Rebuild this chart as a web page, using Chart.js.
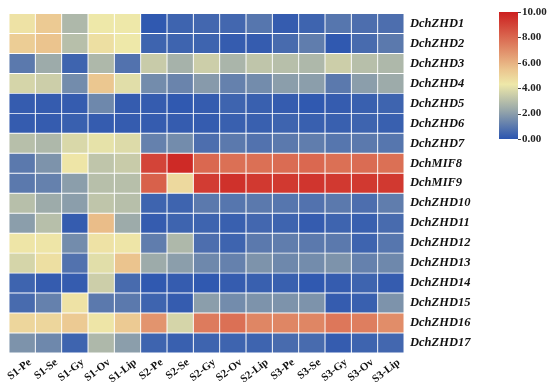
<!DOCTYPE html>
<html>
<head>
<meta charset="utf-8">
<script src="https://cdn.jsdelivr.net/npm/chart.js@4/dist/chart.umd.min.js"></script>
<style>
  html, body { margin: 0; padding: 0; background: #fff; }
  #wrap { width: 550px; height: 382px; }
</style>
</head>
<body>
<div id="wrap"><canvas id="heat"></canvas></div>
<script>
var genes = ['DchZHD1', 'DchZHD2', 'DchZHD3', 'DchZHD4', 'DchZHD5', 'DchZHD6', 'DchZHD7',
  'DchMIF8', 'DchMIF9', 'DchZHD10', 'DchZHD11', 'DchZHD12', 'DchZHD13', 'DchZHD14',
  'DchZHD15', 'DchZHD16', 'DchZHD17'];

var samples = ['S1-Pe', 'S1-Se', 'S1-Gy', 'S1-Ov', 'S1-Lip', 'S2-Pe', 'S2-Se', 'S2-Gy',
  'S2-Ov', 'S2-Lip', 'S3-Pe', 'S3-Se', 'S3-Gy', 'S3-Ov', 'S3-Lip'];

// expression values, one row per gene, one column per sample
var values = [
  [4.5, 5.3, 2.8, 4.3, 4.3, 0.1, 0.4, 0.5, 0.5, 0.9, 0.2, 0.4, 0.9, 0.7, 0.7],
  [5.2, 5.5, 3.0, 4.6, 4.3, 0.4, 0.4, 0.4, 0.2, 0.2, 0.6, 1.1, 0.1, 0.6, 1.0],
  [1.0, 2.4, 0.4, 2.8, 0.8, 3.4, 2.6, 3.5, 2.7, 3.2, 3.0, 2.8, 3.5, 3.0, 2.8],
  [3.7, 3.5, 1.5, 5.4, 4.0, 1.5, 1.3, 1.9, 1.2, 1.5, 2.0, 2.0, 1.0, 2.0, 2.4],
  [0.2, 0.2, 0.2, 1.4, 0.2, 0.2, 0.1, 0.2, 0.4, 0.3, 0.2, 0.1, 0.2, 0.3, 0.4],
  [0.2, 0.2, 0.3, 0.2, 0.2, 0.2, 0.2, 0.2, 0.3, 0.3, 0.4, 0.3, 0.3, 0.4, 0.3],
  [3.0, 2.8, 3.8, 4.1, 3.9, 1.2, 1.5, 0.7, 1.0, 0.8, 1.0, 1.1, 0.9, 1.0, 0.9],
  [1.0, 1.7, 4.4, 3.2, 3.4, 9.0, 9.7, 8.0, 7.8, 7.8, 7.9, 8.0, 7.8, 7.9, 7.8],
  [1.0, 1.2, 2.0, 3.0, 3.0, 8.2, 4.8, 9.2, 9.5, 9.3, 9.3, 9.4, 9.3, 9.3, 9.3],
  [3.0, 2.4, 2.0, 3.2, 3.0, 0.4, 0.4, 1.0, 0.9, 1.0, 0.9, 0.8, 1.0, 0.7, 1.1],
  [2.0, 3.0, 0.2, 5.7, 2.4, 0.2, 0.4, 0.4, 0.3, 0.5, 0.4, 0.2, 0.4, 0.3, 0.6],
  [4.4, 4.4, 1.5, 4.5, 4.4, 1.1, 2.8, 0.7, 0.4, 1.0, 1.1, 1.0, 1.0, 0.4, 0.9],
  [3.7, 4.6, 0.8, 4.0, 5.5, 2.4, 2.0, 1.4, 1.2, 1.7, 1.4, 1.5, 1.7, 1.2, 1.4],
  [0.4, 0.2, 0.2, 3.5, 0.6, 0.1, 0.2, 0.1, 0.2, 0.3, 0.3, 0.1, 0.2, 0.4, 0.2],
  [0.6, 1.2, 4.5, 1.0, 1.0, 0.4, 0.2, 2.0, 1.5, 1.7, 1.7, 1.7, 0.2, 0.3, 1.7],
  [4.9, 4.9, 5.3, 4.4, 5.3, 6.8, 3.7, 7.5, 7.8, 7.2, 7.2, 7.2, 7.6, 7.4, 7.0],
  [1.7, 1.4, 0.4, 2.8, 2.0, 0.4, 0.3, 0.4, 0.4, 0.4, 0.6, 0.6, 0.2, 0.4, 0.5]
];

var colorbarTicks = [0, 2, 4, 6, 8, 10];

// colour scale
var stopValues = [0, 2.2, 4.3, 5.5, 10];
var stopColors = [[43, 85, 176], [149, 165, 170], [238, 232, 169], [235, 196, 142], [204, 31, 31]];

function colorFor(v) {
  var i = 0;
  while (i < stopValues.length - 2 && v > stopValues[i + 1]) i++;
  var t = (v - stopValues[i]) / (stopValues[i + 1] - stopValues[i]);
  t = Math.max(0, Math.min(1, t));
  var a = stopColors[i], b = stopColors[i + 1];
  var c = [0, 1, 2].map(function (k) { return Math.round(a[k] + (b[k] - a[k]) * t); });
  return 'rgb(' + c.join(',') + ')';
}

var datasets = [];
for (var j = 0; j < samples.length; j++) {
  var colors = [];
  var ones = [];
  for (var i = 0; i < genes.length; i++) {
    ones.push(1);
    colors.push(colorFor(values[i][j]));
  }
  datasets.push({
    label: samples[j],
    data: ones,
    backgroundColor: colors,
    borderColor: 'rgba(255,255,255,0.55)',
    borderWidth: 0.8,
    borderSkipped: false,
    barPercentage: 1,
    categoryPercentage: 1
  });
}

// colour bar at the top right
var colorbarPlugin = {
  id: 'colorbar',
  afterDraw: function (chart) {
    var ctx = chart.ctx;
    var x = 499, w = 19, top = 12, bottom = 139;
    var grad = ctx.createLinearGradient(0, bottom, 0, top);
    for (var i = 0; i < stopValues.length; i++) {
      grad.addColorStop(stopValues[i] / 10, 'rgb(' + stopColors[i].join(',') + ')');
    }
    ctx.save();
    ctx.fillStyle = grad;
    ctx.fillRect(x, top, w, bottom - top);
    ctx.font = 'bold 11px "Liberation Serif", serif';
    ctx.fillStyle = '#222';
    ctx.strokeStyle = '#444';
    ctx.lineWidth = 1;
    ctx.textBaseline = 'middle';
    ctx.textAlign = 'left';
    for (var k = 0; k < colorbarTicks.length; k++) {
      var v = colorbarTicks[k];
      var y = bottom - (v / 10) * (bottom - top);
      ctx.beginPath();
      ctx.moveTo(x + w, Math.round(y) + 0.5);
      ctx.lineTo(x + w + 3, Math.round(y) + 0.5);
      ctx.stroke();
      ctx.fillText(v.toFixed(2), x + w + 4, y);
    }
    ctx.restore();
  }
};

var chart = new Chart(document.getElementById('heat'), {
  type: 'bar',
  data: {
    labels: genes,
    datasets: datasets
  },
  options: {
    indexAxis: 'y',
    responsive: true,
    maintainAspectRatio: false,
    animation: false,
    layout: { padding: { left: 9, top: 10, right: 50, bottom: 0 } },
    plugins: {
      legend: { display: false },
      tooltip: { enabled: false }
    },
    scales: {
      x: {
        type: 'linear',
        stacked: true,
        min: 0,
        max: samples.length,
        grid: { display: false, drawTicks: false },
        border: { display: false },
        afterBuildTicks: function (axis) {
          // label ends sit a little right of each column centre
          axis.ticks = samples.map(function (s, i) { return { value: i + 0.8 }; });
        },
        afterFit: function (axis) { axis.height = 29; },
        ticks: {
          autoSkip: false,
          minRotation: 38,
          maxRotation: 38,
          padding: 3,
          color: '#111',
          font: { family: '"Liberation Serif", serif', size: 11, weight: 'bold' },
          callback: function (v, i) { return samples[i]; }
        }
      },
      y: {
        stacked: true,
        position: 'right',
        grid: { display: false, drawTicks: false },
        border: { display: false },
        afterFit: function (axis) { axis.width = 96; },
        ticks: {
          padding: 6,
          color: '#111',
          font: { family: '"Liberation Serif", serif', size: 12.5, weight: 'bold', style: 'italic' }
        }
      }
    }
  },
  plugins: [colorbarPlugin]
});
</script>
</body>
</html>
